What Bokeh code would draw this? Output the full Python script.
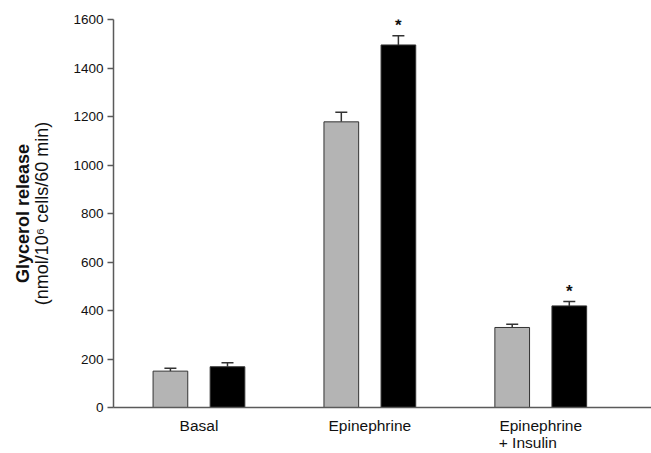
from bokeh.plotting import figure
from bokeh.models import (ColumnDataSource, FixedTicker, LinearAxis, Whisker,
                          TeeHead, Range1d)
from bokeh.core.properties import value
from bokeh.embed import file_html
from bokeh.resources import INLINE

# ---- data ----
categories = ["Basal", "Epinephrine", "Epinephrine"]
sub_labels = ["", "", "+ Insulin"]
gray_vals = [150, 1178, 330]
gray_err = [12, 40, 13]
black_vals = [168, 1495, 419]
black_err = [17, 38, 18]
black_sig = ["", "*", "*"]
yticks = [0, 200, 400, 600, 800, 1000, 1200, 1400, 1600]

FONT = "Liberation Sans"
AXC = "#5a5a5a"
TXT = "#111111"

pos = [1, 2, 3]
off = 0.167
bw = 0.203

gsrc = ColumnDataSource(dict(x=[p - off for p in pos], top=gray_vals,
                             up=[v + e for v, e in zip(gray_vals, gray_err)]))
bsrc = ColumnDataSource(dict(x=[p + off for p in pos], top=black_vals,
                             up=[v + e for v, e in zip(black_vals, black_err)],
                             sig=black_sig))

p = figure(width=651, height=453, x_range=Range1d(0.5, 3.648), y_range=Range1d(0, 1600),
           output_backend="svg", toolbar_location=None,
           min_border_left=113, min_border_right=0, min_border_top=19, min_border_bottom=46)
p.grid.visible = False
p.outline_line_color = None
p.background_fill_color = "white"
p.border_fill_color = "white"

# whiskers (upper only)
for src in (gsrc, bsrc):
    w = Whisker(base="x", lower="top", upper="up", source=src, dimension="height",
                line_color="#333333", line_width=1.5,
                upper_head=TeeHead(size=12, line_color="#333333", line_width=1.5),
                lower_head=None, level="underlay")
    p.add_layout(w)

p.vbar(x="x", top="top", width=bw, source=gsrc, fill_color="#b4b4b4",
       line_color="#333333", line_width=1)
p.vbar(x="x", top="top", width=bw, source=bsrc, fill_color="#000000",
       line_color="#333333", line_width=1)

p.text(x="x", y="up", text="sig", source=bsrc, text_align="center",
       text_baseline="middle", y_offset=-10, text_font=value(FONT),
       text_font_size="17px", text_font_style="bold", text_color=TXT)

# x axis (first line of category labels)
xa = p.xaxis[0]
xa.ticker = FixedTicker(ticks=pos)
xa.major_label_overrides = {t: c for t, c in zip(pos, categories)}
xa.major_tick_line_color = None
xa.major_tick_out = 0
xa.major_tick_in = 0
xa.minor_tick_line_color = None
xa.axis_line_color = AXC
xa.axis_line_width = 1.5
xa.major_label_text_font = FONT
xa.major_label_text_font_size = "15.5px"
xa.major_label_text_color = TXT
xa.major_label_standoff = 9

# second line of category labels (left-aligned under first line)
pad = "\u00a0" * 6
sub_ticks = [t for t, s in zip(pos, sub_labels) if s]
xa2 = LinearAxis(ticker=FixedTicker(ticks=sub_ticks),
                 major_label_overrides={t: s + pad for t, s in zip(pos, sub_labels) if s},
                 axis_line_color=None, major_tick_line_color=None,
                 minor_tick_line_color=None, major_tick_out=0, major_tick_in=0,
                 minor_tick_out=0, major_label_text_font=FONT,
                 major_label_text_font_size="15.5px", major_label_text_color=TXT,
                 major_label_standoff=-3)
p.add_layout(xa2, "below")

# y axis
ya = p.yaxis[0]
ya.ticker = FixedTicker(ticks=yticks)
ya.minor_tick_line_color = None
ya.major_tick_out = 6
ya.major_tick_in = 0
ya.major_tick_line_color = AXC
ya.major_tick_line_width = 1.5
ya.axis_line_color = AXC
ya.axis_line_width = 1.5
ya.major_label_text_font = FONT
ya.major_label_text_font_size = "13.5px"
ya.major_label_text_color = TXT
ya.major_label_standoff = 4
ya.axis_label = "(nmol/10\u2076 cells/60 min)"
ya.axis_label_text_font = FONT
ya.axis_label_text_font_size = "18px"
ya.axis_label_text_font_style = "normal"
ya.axis_label_text_color = TXT
ya.axis_label_standoff = 18

ya2 = LinearAxis(ticker=FixedTicker(ticks=[]), axis_line_color=None,
                 major_tick_line_color=None, minor_tick_line_color=None,
                 major_tick_out=0, minor_tick_out=0,
                 axis_label="Glycerol release", axis_label_text_font=FONT,
                 axis_label_text_font_size="18px", axis_label_text_font_style="bold",
                 axis_label_text_color=TXT, axis_label_standoff=-3)
p.add_layout(ya2, "left")

open("out.html", "w").write(file_html(p, INLINE))
